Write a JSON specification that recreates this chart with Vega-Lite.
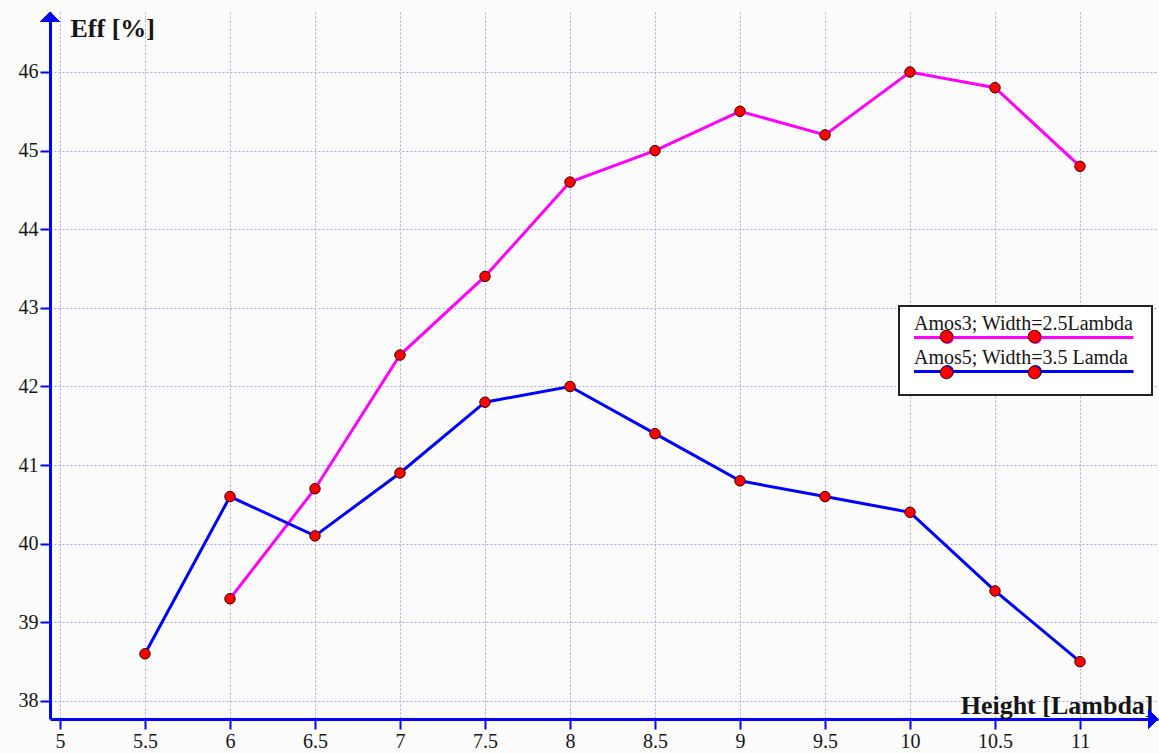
{
  "$schema": "https://vega.github.io/schema/vega-lite/v6.json",
  "width": 1108,
  "height": 707,
  "autosize": {"type": "none"},
  "padding": {"left": 50, "top": 12, "right": 1, "bottom": 34},
  "background": "#fbfcfb",
  "config": {
    "view": {"stroke": null},
    "font": "Liberation Serif",
    "axis": {
      "labelFont": "Liberation Serif",
      "labelFontSize": 20,
      "labelColor": "#151515",
      "titleFont": "Liberation Serif",
      "titleFontSize": 26,
      "titleFontWeight": "bold",
      "titleColor": "#151515",
      "domainColor": "#0000ff",
      "domainWidth": 3,
      "tickColor": "#0000ff",
      "tickWidth": 2,
      "tickSize": 10,
      "labelPadding": 2,
      "grid": true,
      "gridColor": "#a6a6f6",
      "gridWidth": 1,
      "gridDash": [2, 2],
      "gridOpacity": 1
    },
    "legend": {
      "orient": "none",
      "legendX": 849,
      "legendY": 294,
      "title": null,
      "labelFont": "Liberation Serif",
      "labelFontSize": 20,
      "labelColor": "#151515",
      "labelBaseline": "alphabetic",
      "labelOffset": -20,
      "labelLimit": 0,
      "symbolSize": 400,
      "padding": 12
    }
  },
  "data": {
    "values": [
      {"h": 6, "eff": 39.3, "series": "Amos3; Width=2.5Lambda"},
      {"h": 6.5, "eff": 40.7, "series": "Amos3; Width=2.5Lambda"},
      {"h": 7, "eff": 42.4, "series": "Amos3; Width=2.5Lambda"},
      {"h": 7.5, "eff": 43.4, "series": "Amos3; Width=2.5Lambda"},
      {"h": 8, "eff": 44.6, "series": "Amos3; Width=2.5Lambda"},
      {"h": 8.5, "eff": 45.0, "series": "Amos3; Width=2.5Lambda"},
      {"h": 9, "eff": 45.5, "series": "Amos3; Width=2.5Lambda"},
      {"h": 9.5, "eff": 45.2, "series": "Amos3; Width=2.5Lambda"},
      {"h": 10, "eff": 46.0, "series": "Amos3; Width=2.5Lambda"},
      {"h": 10.5, "eff": 45.8, "series": "Amos3; Width=2.5Lambda"},
      {"h": 11, "eff": 44.8, "series": "Amos3; Width=2.5Lambda"},
      {"h": 5.5, "eff": 38.6, "series": "Amos5; Width=3.5 Lamda"},
      {"h": 6, "eff": 40.6, "series": "Amos5; Width=3.5 Lamda"},
      {"h": 6.5, "eff": 40.1, "series": "Amos5; Width=3.5 Lamda"},
      {"h": 7, "eff": 40.9, "series": "Amos5; Width=3.5 Lamda"},
      {"h": 7.5, "eff": 41.8, "series": "Amos5; Width=3.5 Lamda"},
      {"h": 8, "eff": 42.0, "series": "Amos5; Width=3.5 Lamda"},
      {"h": 8.5, "eff": 41.4, "series": "Amos5; Width=3.5 Lamda"},
      {"h": 9, "eff": 40.8, "series": "Amos5; Width=3.5 Lamda"},
      {"h": 9.5, "eff": 40.6, "series": "Amos5; Width=3.5 Lamda"},
      {"h": 10, "eff": 40.4, "series": "Amos5; Width=3.5 Lamda"},
      {"h": 10.5, "eff": 39.4, "series": "Amos5; Width=3.5 Lamda"},
      {"h": 11, "eff": 38.5, "series": "Amos5; Width=3.5 Lamda"}
    ]
  },
  "encoding": {
    "x": {
      "field": "h",
      "type": "quantitative",
      "scale": {"domain": [4.9412, 11.4588], "nice": false, "zero": false},
      "axis": {
        "values": [5, 5.5, 6, 6.5, 7, 7.5, 8, 8.5, 9, 9.5, 10, 10.5, 11],
        "format": "~g",
        "title": "Height [Lambda]",
        "titleX": 1103,
        "titleY": -14,
        "titleAlign": "right",
        "titleBaseline": "middle",
        "labelFlush": false,
        "labelOverlap": false
      }
    },
    "y": {
      "field": "eff",
      "type": "quantitative",
      "scale": {"domain": [37.771, 46.763], "nice": false, "zero": false},
      "axis": {
        "values": [38, 39, 40, 41, 42, 43, 44, 45, 46],
        "format": "d",
        "title": "Eff [%]",
        "titleAngle": 0,
        "titleX": 20,
        "titleY": 16,
        "titleAlign": "left",
        "titleBaseline": "middle",
        "labelOverlap": false
      }
    }
  },
  "layer": [
    {
      "mark": {"type": "line", "strokeWidth": 3},
      "encoding": {
        "color": {
          "field": "series",
          "type": "nominal",
          "scale": {"range": ["#ff00ff", "#0000ff"]},
          "legend": {
            "rowPadding": -2,
            "symbolType": "M-0.85,0.8L21.1,0.8M2,0.8A0.5,0.5,0,1,0,3,0.8A0.5,0.5,0,1,0,2,0.8ZM10.8,0.8A0.5,0.5,0,1,0,11.8,0.8A0.5,0.5,0,1,0,10.8,0.8Z",
            "symbolStrokeWidth": 3,
            "fillColor": "#ffffff",
            "strokeColor": "#222222",
            "encode": {"legend": {"update": {"strokeWidth": {"value": 2}}}}
          }
        }
      }
    },
    {
      "mark": {"type": "point", "filled": true, "size": 110, "stroke": "#3a0000", "strokeWidth": 1, "opacity": 1},
      "encoding": {
        "fill": {
          "field": "series",
          "type": "nominal",
          "scale": {"domain": ["Amos3; Width=2.5Lambda", "Amos5; Width=3.5 Lamda"], "range": ["#ff0000", "#ff0000"]},
          "legend": {
            "rowPadding": 3,
            "symbolType": "M1.88,0.8A0.62,0.62,0,1,0,3.12,0.8A0.62,0.62,0,1,0,1.88,0.8ZM10.68,0.8A0.62,0.62,0,1,0,11.92,0.8A0.62,0.62,0,1,0,10.68,0.8Z",
            "symbolStrokeColor": "#3a0000",
            "symbolStrokeWidth": 1,
            "symbolOpacity": 1,
            "labelExpr": "''"
          }
        }
      }
    },
    {
      "mark": {"type": "point", "filled": true, "opacity": 1, "fill": "#0000ff", "strokeWidth": 0, "size": 400, "shape": "M-1,1L0,0L1,1Z"},
      "encoding": {
        "x": {"datum": 4.9412, "type": "quantitative"},
        "y": {"datum": 46.763, "type": "quantitative"}
      }
    },
    {
      "mark": {"type": "point", "filled": true, "opacity": 1, "fill": "#0000ff", "strokeWidth": 0, "size": 400, "shape": "M-1,-1L0,0L-1,1Z"},
      "encoding": {
        "x": {"datum": 11.4588, "type": "quantitative"},
        "y": {"datum": 37.771, "type": "quantitative"}
      }
    }
  ]
}
